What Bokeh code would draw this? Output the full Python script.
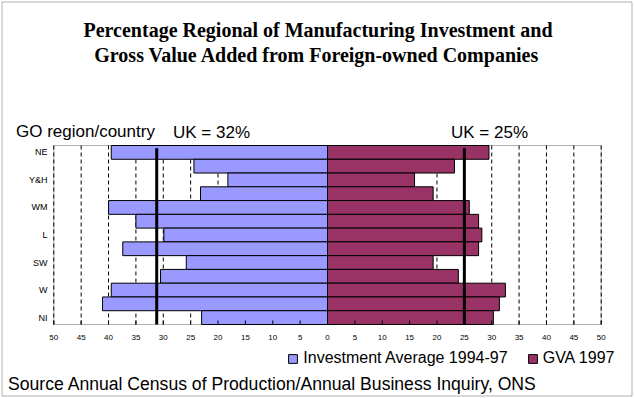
from bokeh.plotting import figure
from bokeh.models import (ColumnDataSource, Range1d, Label, Legend, LegendItem, BoxAnnotation)
from bokeh.core.properties import value
from bokeh.embed import file_html
from bokeh.resources import INLINE

# ---------------- data ----------------
regions = ["NE", "NW", "Y&H", "EM", "WM", "E", "L", "SE", "SW", "Eng", "W", "S", "NI"]
region_tick_labels = ["NE", "", "Y&H", "", "WM", "", "L", "", "SW", "", "W", "", "NI"]
investment = [39.5, 24.4, 18.2, 23.2, 40.0, 35.0, 29.9, 37.4, 25.8, 30.5, 39.5, 41.1, 23.0]
gva = [29.5, 23.2, 15.9, 19.3, 25.9, 27.6, 28.2, 27.6, 19.3, 23.9, 32.5, 31.4, 30.3]
uk_investment = 31.2
uk_gva = 25.0
x_ticks = [-50, -45, -40, -35, -30, -25, -20, -15, -10, -5, 0, 5, 10, 15, 20, 25, 30, 35, 40, 45, 50]
x_tick_labels = ["50", "45", "40", "35", "30", "25", "20", "15", "10", "5", "0",
                 "5", "10", "15", "20", "25", "30", "35", "40", "45", "50"]
x_min, x_max = -50, 50

title_lines = ["Percentage Regional of Manufacturing Investment and",
               "Gross Value Added from Foreign-owned Companies"]
axis_caption = "GO region/country"
uk_inv_text = "UK = 32%"
uk_gva_text = "UK = 25%"
series_names = ["Investment Average 1994-97", "GVA 1997"]
source_text = "Source Annual Census of Production/Annual Business Inquiry, ONS"

INV_COLOR = "#9999FF"
GVA_COLOR = "#993366"

# ---------------- layout (pixels of the 634x398 canvas) ----------------
W, H = 634, 398
PLOT_L, PLOT_R, PLOT_T, PLOT_B = 53.3, 600.7, 145.0, 324.0
n = len(regions)
px_x = (PLOT_R - PLOT_L) / (x_max - x_min)
px_y = (PLOT_B - PLOT_T) / n
row_top, row_bot = n - 0.5, -0.5
x_start = x_min - PLOT_L / px_x
x_end = x_max + (W - PLOT_R) / px_x
y_end = row_top + PLOT_T / px_y
y_start = row_bot - (H - PLOT_B) / px_y


def dx(px):      # horizontal pixel distance -> data
    return px / px_x


def dy(px):      # vertical pixel distance -> data
    return px / px_y


def xd(px):      # canvas x pixel -> data
    return x_start + px / px_x


def yd(py):      # canvas y pixel (from top) -> data
    return y_end - py / px_y


ypos = [n - 1 - i for i in range(n)]
source = ColumnDataSource(dict(
    y=ypos,
    inv_left=[-v for v in investment],
    zero=[0] * n,
    gva=gva,
    label=region_tick_labels,
))
tick_src = ColumnDataSource(dict(x=x_ticks, label=x_tick_labels))

p = figure(width=W, height=H, output_backend="svg", toolbar_location=None,
           x_range=Range1d(x_start, x_end), y_range=Range1d(y_start, y_end),
           x_axis_location=None, y_axis_location=None,
           min_border=0, min_border_left=0, min_border_right=0,
           min_border_top=0, min_border_bottom=0)
p.background_fill_color = "white"
p.border_fill_color = "white"
p.outline_line_color = None
p.xgrid.visible = False
p.ygrid.visible = False

# outer chart border
p.add_layout(BoxAnnotation(left=xd(1.5), right=xd(631.5), top=yd(1.5), bottom=yd(395.5),
                           fill_alpha=0, line_color="black", line_width=1))

# dashed grid lines
p.segment(x0="x", y0=row_bot, x1="x", y1=row_top, source=tick_src,
          line_color="black", line_width=1, line_dash="4 3")

r_inv = p.hbar(y="y", left="inv_left", right="zero", height=1.0, source=source,
               fill_color=INV_COLOR, line_color="black", line_width=1)
r_gva = p.hbar(y="y", left="zero", right="gva", height=1.0, source=source,
               fill_color=GVA_COLOR, line_color="black", line_width=1)

# UK average lines
p.segment(x0=[-uk_investment, uk_gva], y0=row_bot, x1=[-uk_investment, uk_gva],
          y1=row_top - dy(2.7), line_color="black", line_width=3)

# plot box
p.add_layout(BoxAnnotation(left=x_min, right=x_max, bottom=row_bot, top=row_top,
                           fill_alpha=0, line_color="black", line_width=1))

# x ticks (inside, pointing up) and labels
p.segment(x0="x", y0=row_bot, x1="x", y1=row_bot + dy(4), source=tick_src,
          line_color="black", line_width=1)
p.text(x="x", y=row_bot - dy(13), text="label", source=tick_src,
       text_font=value("Liberation Sans"), text_font_size="8px", text_color="black",
       text_align="center", text_baseline="middle")

# y labels
p.text(x=x_min - dx(6.3), y="y", text="label", source=source,
       text_font=value("Liberation Sans"), text_font_size="9px", text_color="black",
       text_align="right", text_baseline="middle")


def add_label(text, ref_x, ref_y, size, font="Liberation Sans", style="normal", align="left"):
    p.add_layout(Label(x=ref_x, y=H - ref_y, x_units="screen", y_units="screen",
                       text=text, text_font=font, text_font_size=size, text_font_style=style,
                       text_align=align, text_baseline="alphabetic", text_color="black"))


add_label(title_lines[0], 317.5, 29, "20px", font="Liberation Serif", style="bold", align="center")
add_label(title_lines[1], 316.5, 54, "20px", font="Liberation Serif", style="bold", align="center")
add_label(axis_caption, 15.5, 130.5, "17px")
add_label(uk_inv_text, 172.5, 131.5, "17px")
add_label(uk_gva_text, 450.5, 131.5, "17px")
add_label(source_text, 7.5, 383, "17.6px")

# legends (one per item, positioned separately)
for rend, name, gx in ((r_inv, series_names[0], 287.3), (r_gva, series_names[1], 526.7)):
    lg = Legend(items=[LegendItem(label=name, renderers=[rend])],
                location=(gx, H - 367.3),
                orientation="horizontal", padding=0, margin=0, spacing=0,
                glyph_width=11, glyph_height=11, label_standoff=5,
                label_text_font="Liberation Sans", label_text_font_size="16px",
                label_text_color="black",
                border_line_color=None, background_fill_alpha=0)
    p.add_layout(lg)

open("out.html", "w").write(file_html(p, INLINE))
